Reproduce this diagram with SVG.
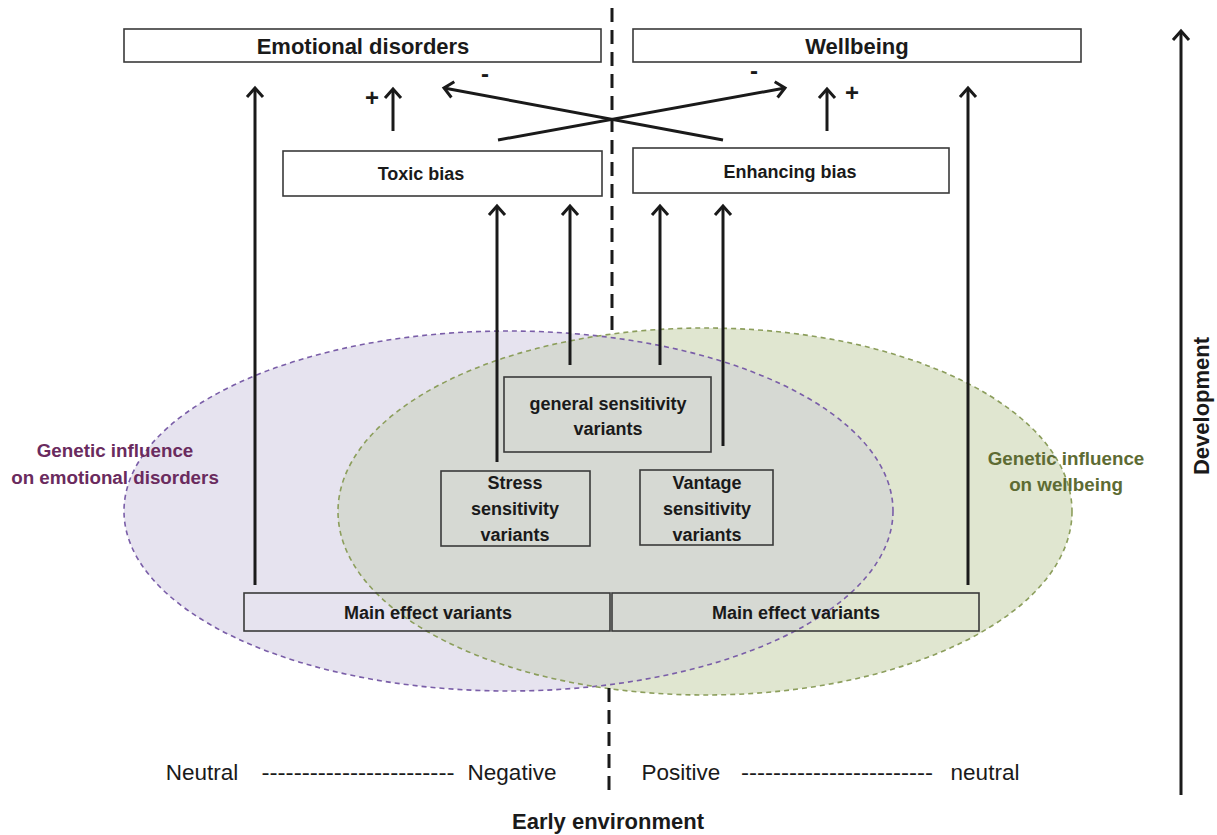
<svg xmlns="http://www.w3.org/2000/svg" width="1217" height="835" viewBox="0 0 1217 835">
  <defs>
    <style>
      .box{fill:none;stroke:#3a3a3a;stroke-width:1.6}
      .ln{stroke:#1a1a1a;stroke-width:3;fill:none}
      .b{font-family:"Liberation Sans",Arial,sans-serif;font-weight:bold;fill:#1a1a1a;text-anchor:middle}
      .r{font-family:"Liberation Sans",Arial,sans-serif;fill:#1a1a1a;text-anchor:middle;font-size:22.5px}
      .t22{font-size:22px}
      .t18{font-size:18px}
      .sg{font-size:24px}
      .gp{font-family:"Liberation Sans",Arial,sans-serif;font-weight:bold;font-size:18.8px;fill:#6a2b5e;text-anchor:middle}
      .gg{font-family:"Liberation Sans",Arial,sans-serif;font-weight:bold;font-size:18.8px;fill:#5d6b33;text-anchor:middle}
      .cdash{stroke:#1a1a1a;stroke-width:3;stroke-dasharray:14 8;fill:none}
    </style>
    <marker id="ah" markerUnits="userSpaceOnUse" markerWidth="24" markerHeight="24" refX="0" refY="0" orient="auto" overflow="visible">
      <path d="M-9,-8 L0,0 L-9,8" fill="none" stroke="#1a1a1a" stroke-width="3"/>
    </marker>
    <clipPath id="clipP">
      <ellipse cx="508.5" cy="511" rx="384.5" ry="180"/>
    </clipPath>
  </defs>

  <g id="ellipses">
    <ellipse id="purple-ellipse" cx="508.5" cy="511" rx="384.5" ry="180" fill="#e6e3ef"/>
    <ellipse id="green-ellipse" cx="705" cy="511.5" rx="367" ry="183.5" fill="#e0e6d0"/>
    <ellipse cx="705" cy="511.5" rx="367" ry="183.5" fill="#d6d9d3" clip-path="url(#clipP)"/>
    <ellipse cx="508.5" cy="511" rx="384.5" ry="180" fill="none" stroke="#7a5ea8" stroke-width="1.6" stroke-dasharray="5 4"/>
    <ellipse cx="705" cy="511.5" rx="367" ry="183.5" fill="none" stroke="#8c9e5c" stroke-width="1.6" stroke-dasharray="5 4"/>
  </g>

  <g id="center-divider">
    <line class="cdash" x1="612" y1="8" x2="612" y2="330"/>
    <line class="cdash" x1="609" y1="688" x2="609" y2="798"/>
  </g>

  <g id="emotional-disorders">
    <rect class="box" x="124" y="29" width="477" height="33"/>
    <text class="b t22" x="363" y="54">Emotional disorders</text>
  </g>
  <g id="wellbeing">
    <rect class="box" x="633" y="29" width="448" height="33"/>
    <text class="b t22" x="857" y="54">Wellbeing</text>
  </g>
  <g id="toxic-bias">
    <rect class="box" x="283" y="151" width="319" height="45"/>
    <text class="b t18" x="421" y="180">Toxic bias</text>
  </g>
  <g id="enhancing-bias">
    <rect class="box" x="633" y="148" width="316" height="45"/>
    <text class="b t18" x="790" y="178">Enhancing bias</text>
  </g>
  <g id="general-sensitivity">
    <rect class="box" x="504" y="377" width="207" height="75"/>
    <text class="b t18" x="608" y="410">general sensitivity</text>
    <text class="b t18" x="608" y="435">variants</text>
  </g>
  <g id="stress-sensitivity">
    <rect class="box" x="441" y="471" width="149" height="75"/>
    <text class="b t18" x="515" y="489">Stress</text>
    <text class="b t18" x="515" y="515">sensitivity</text>
    <text class="b t18" x="515" y="541">variants</text>
  </g>
  <g id="vantage-sensitivity">
    <rect class="box" x="640" y="470" width="133" height="75"/>
    <text class="b t18" x="707" y="489">Vantage</text>
    <text class="b t18" x="707" y="515">sensitivity</text>
    <text class="b t18" x="707" y="541">variants</text>
  </g>
  <g id="main-effect-left">
    <rect class="box" x="244" y="593" width="366" height="38"/>
    <text class="b t18" x="428" y="619">Main effect variants</text>
  </g>
  <g id="main-effect-right">
    <rect class="box" x="612" y="593" width="367" height="38"/>
    <text class="b t18" x="796" y="619">Main effect variants</text>
  </g>

  <g id="genetic-labels">
    <text class="gp" x="115" y="457">Genetic influence</text>
    <text class="gp" x="115" y="484">on emotional disorders</text>
    <text class="gg" x="1066" y="465">Genetic influence</text>
    <text class="gg" x="1066" y="491">on wellbeing</text>
  </g>

  <g id="connectors">
    <line class="ln" x1="255" y1="585" x2="255" y2="88" marker-end="url(#ah)"/>
    <line class="ln" x1="968" y1="585" x2="968" y2="88" marker-end="url(#ah)"/>
    <line class="ln" x1="393" y1="131" x2="393" y2="89" marker-end="url(#ah)"/>
    <line class="ln" x1="827" y1="131" x2="827" y2="89" marker-end="url(#ah)"/>
    <line class="ln" x1="723" y1="140" x2="444" y2="88" marker-end="url(#ah)"/>
    <line class="ln" x1="498" y1="140" x2="785" y2="88" marker-end="url(#ah)"/>
    <line class="ln" x1="497" y1="462" x2="497" y2="206" marker-end="url(#ah)"/>
    <line class="ln" x1="570" y1="365" x2="570" y2="206" marker-end="url(#ah)"/>
    <line class="ln" x1="660" y1="365" x2="660" y2="206" marker-end="url(#ah)"/>
    <line class="ln" x1="723" y1="446" x2="723" y2="206" marker-end="url(#ah)"/>
    <line class="ln" x1="1181" y1="795" x2="1181" y2="31" marker-end="url(#ah)"/>
  </g>

  <g id="signs">
    <text class="b sg" x="372" y="106">+</text>
    <text class="b sg" x="852" y="101">+</text>
    <text class="b sg" x="485" y="82">-</text>
    <text class="b sg" x="754" y="79">-</text>
  </g>

  <g id="environment-axis">
    <text class="r" x="202" y="780">Neutral</text>
    <text class="r" x="358" y="780" textLength="193" lengthAdjust="spacingAndGlyphs">------------------------</text>
    <text class="r" x="512" y="780">Negative</text>
    <text class="r" x="681" y="780">Positive</text>
    <text class="r" x="837" y="780" textLength="192" lengthAdjust="spacingAndGlyphs">------------------------</text>
    <text class="r" x="985" y="780">neutral</text>
    <text class="b t22" x="608" y="829">Early environment</text>
  </g>

  <g id="development-label">
    <text class="b t22" transform="translate(1209,406) rotate(-90)" x="0" y="0">Development</text>
  </g>
</svg>
